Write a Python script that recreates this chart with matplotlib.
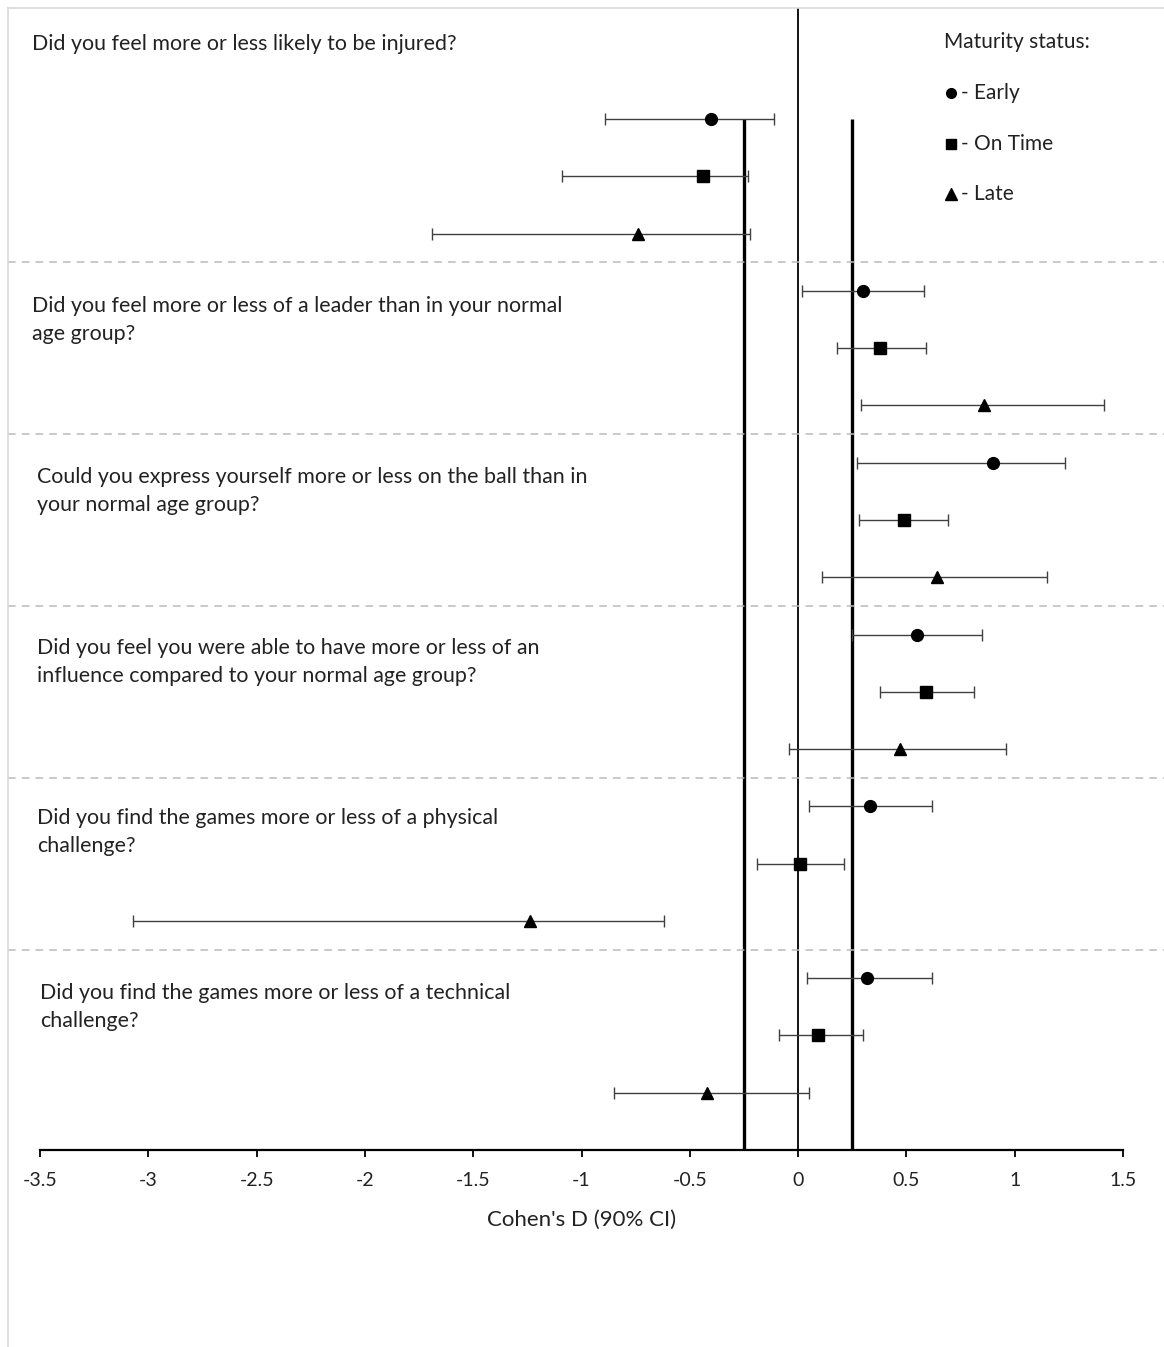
import matplotlib
matplotlib.use("Agg")
import matplotlib.pyplot as plt
from matplotlib.lines import Line2D
from matplotlib.transforms import blended_transform_factory

plt.rcParams["font.family"] = ["Lato", "DejaVu Sans"]

questions = [
    "Did you feel more or less likely to be injured?",
    "Did you feel more or less of a leader than in your normal\nage group?",
    "Could you express yourself more or less on the ball than in\nyour normal age group?",
    "Did you feel you were able to have more or less of an\ninfluence compared to your normal age group?",
    "Did you find the games more or less of a physical\nchallenge?",
    "Did you find the games more or less of a technical\nchallenge?",
]
groups = ["Early", "On Time", "Late"]
markers = ["o", "s", "^"]

# Cohen's d and 90% CI, per question, order: Early, On Time, Late
d_values = [
    [-0.40, -0.44, -0.74],
    [0.30, 0.38, 0.86],
    [0.90, 0.49, 0.64],
    [0.55, 0.59, 0.47],
    [0.33, 0.01, -1.24],
    [0.32, 0.09, -0.42],
]
ci_low = [
    [-0.89, -1.09, -1.69],
    [0.02, 0.18, 0.29],
    [0.27, 0.28, 0.11],
    [0.25, 0.38, -0.04],
    [0.05, -0.19, -3.07],
    [0.04, -0.09, -0.85],
]
ci_high = [
    [-0.11, -0.23, -0.22],
    [0.58, 0.59, 1.41],
    [1.23, 0.69, 1.15],
    [0.85, 0.81, 0.96],
    [0.62, 0.21, -0.62],
    [0.62, 0.30, 0.05],
]
xticks = [-3.5, -3, -2.5, -2, -1.5, -1, -0.5, 0, 0.5, 1, 1.5]
smallest_worthwhile = [-0.25, 0.25]

W, H = 1164, 1347
fig = plt.figure(figsize=(W / 100, H / 100), dpi=100)
ax = fig.add_axes([40 / W, 1 - 1150 / H, (1123 - 40) / W, (1150 - 8) / H])

n_rows = len(questions) * 3
for qi in range(len(questions)):
    for gi in range(3):
        y = n_rows - (qi * 3 + gi)
        d = d_values[qi][gi]
        ax.errorbar(d, y, xerr=[[d - ci_low[qi][gi]], [ci_high[qi][gi] - d]],
                    fmt=markers[gi], color="black", markersize=8.5,
                    ecolor="#404040", elinewidth=1, capsize=4.5, capthick=1, zorder=3)

ax.axvline(0, color="black", lw=1.3, zorder=2)
for v in smallest_worthwhile:
    ax.plot([v, v], [0, n_rows], color="black", lw=2.4, zorder=2, solid_capstyle="butt")

ax.set_xlim(-3.5, 1.5)
ax.set_ylim(0, 19.94)
ax.set_xticks(xticks)
ax.set_xticklabels([f"{t:g}" for t in xticks], fontsize=14, color="#222222")
ax.tick_params(axis="x", direction="out", length=5, width=1.3, pad=11)
ax.set_yticks([])
for s in ["top", "right", "left"]:
    ax.spines[s].set_visible(False)
ax.spines["bottom"].set_linewidth(1.6)
ax.set_xlabel("Cohen's D (90% CI)", fontsize=16, color="#222222", labelpad=15)

# dashed separators between questions, across the whole figure width
trans = blended_transform_factory(fig.transFigure, ax.transData)
for k in range(1, len(questions)):
    ys = n_rows - 3 * k + 0.5
    ax.add_line(Line2D([8 / W, 1], [ys, ys], transform=trans, color="#bbbbbb",
                       lw=1.1, ls=(0, (5, 4)), clip_on=False))

# outer frame (left and top)
fig.add_artist(Line2D([8 / W, 8 / W], [0, 1 - 8 / H], color="#d9d9d9", lw=1.2))
fig.add_artist(Line2D([8 / W, 1], [1 - 8 / H, 1 - 8 / H], color="#d9d9d9", lw=1.2))

q_pos = [(32, 44), (32, 320), (37, 491), (37, 662), (37, 832), (40, 1007)]
for q, (px, py) in zip(questions, q_pos):
    fig.text(px / W, 1 - py / H, q, fontsize=15.4, color="#222222", va="center",
             ha="left", linespacing=1.5)

# legend drawn by hand
fig.text(944 / W, 1 - 42 / H, "Maturity status:", fontsize=15, color="#222222", va="center")
leg_y = [93, 144, 194]
for g, m, py in zip(groups, markers, leg_y):
    fig.add_artist(Line2D([951 / W], [1 - py / H], marker=m, color="black",
                          markersize=7 if m != "^" else 9, ls="none"))
    fig.text(961 / W, 1 - py / H, "- " + g, fontsize=15, color="#222222", va="center")

fig.savefig("out.png", dpi=100)
